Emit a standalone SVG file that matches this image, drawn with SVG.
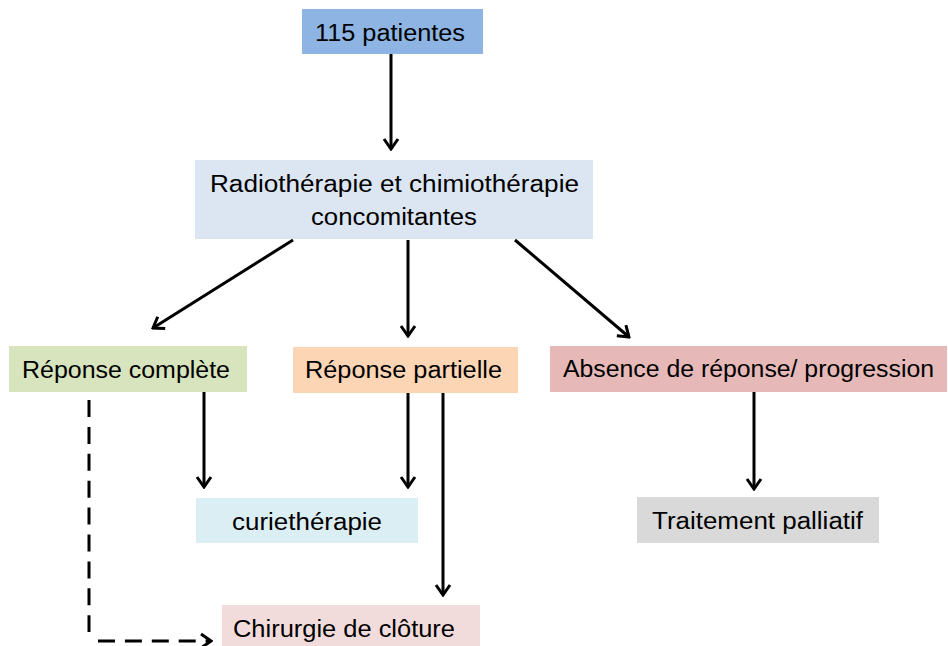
<svg xmlns="http://www.w3.org/2000/svg" width="948" height="646" viewBox="0 0 948 646">
<style>
  .lbl { font-family: "Liberation Sans", Arial, sans-serif; font-size: 23px; fill: #000; }
  .ln { stroke: #000; stroke-width: 3; fill: none; }
  .dash { stroke-dasharray: 17 9.9; }
</style>
<defs>
  <marker id="arr" viewBox="-12 -9 14 18" refX="0" refY="0" markerWidth="14" markerHeight="18" markerUnits="userSpaceOnUse" orient="auto">
    <path d="M-10,-7 L0,0 L-10,7" fill="none" stroke="#000" stroke-width="3"/>
  </marker>
</defs>
<rect width="948" height="646" fill="#fff"/>
<g id="n1">
  <rect x="302" y="9" width="181" height="45" fill="#8DB4E2"/>
  <text class="lbl" x="315" y="41" textLength="150" lengthAdjust="spacingAndGlyphs">115 patientes</text>
</g>
<g id="n2">
  <rect x="195" y="160" width="398" height="79" fill="#DCE6F2"/>
  <text class="lbl" x="210" y="192" textLength="369" lengthAdjust="spacingAndGlyphs">Radiothérapie et chimiothérapie</text>
  <text class="lbl" x="311" y="225" textLength="166" lengthAdjust="spacingAndGlyphs">concomitantes</text>
</g>
<g id="n3">
  <rect x="9" y="346" width="238" height="46" fill="#D7E4BD"/>
  <text class="lbl" x="22" y="378" textLength="208" lengthAdjust="spacingAndGlyphs">Réponse complète</text>
</g>
<g id="n4">
  <rect x="293" y="347" width="225" height="46" fill="#FCD5B5"/>
  <text class="lbl" x="305" y="378" textLength="197" lengthAdjust="spacingAndGlyphs">Réponse partielle</text>
</g>
<g id="n5">
  <rect x="550" y="346" width="397" height="46" fill="#E6B9B8"/>
  <text class="lbl" x="563" y="377" textLength="371" lengthAdjust="spacingAndGlyphs">Absence de réponse/ progression</text>
</g>
<g id="n6">
  <rect x="196" y="498" width="222" height="45" fill="#DBEEF4"/>
  <text class="lbl" x="232" y="530" textLength="150" lengthAdjust="spacingAndGlyphs">curiethérapie</text>
</g>
<g id="n7">
  <rect x="222" y="605" width="258" height="45" fill="#F2DCDB"/>
  <text class="lbl" x="233" y="637" textLength="222" lengthAdjust="spacingAndGlyphs">Chirurgie de clôture</text>
</g>
<g id="n8">
  <rect x="637" y="497" width="242" height="46" fill="#D9D9D9"/>
  <text class="lbl" x="652" y="529" textLength="211" lengthAdjust="spacingAndGlyphs">Traitement palliatif</text>
</g>
<g id="connectors">
  <line class="ln" x1="391" y1="54" x2="391" y2="149" marker-end="url(#arr)"/>
  <line class="ln" x1="293" y1="240" x2="153" y2="328" marker-end="url(#arr)"/>
  <line class="ln" x1="408" y1="240" x2="408" y2="336" marker-end="url(#arr)"/>
  <line class="ln" x1="515" y1="240" x2="629" y2="337" marker-end="url(#arr)"/>
  <line class="ln" x1="204" y1="392" x2="204" y2="487" marker-end="url(#arr)"/>
  <line class="ln" x1="408" y1="393" x2="408" y2="487" marker-end="url(#arr)"/>
  <line class="ln" x1="443" y1="393" x2="443" y2="595" marker-end="url(#arr)"/>
  <line class="ln" x1="754" y1="392" x2="754" y2="489" marker-end="url(#arr)"/>
  <line class="ln dash" x1="89" y1="400" x2="89" y2="632"/>
  <line class="ln dash" x1="98" y1="641" x2="211" y2="641" marker-end="url(#arr)"/>
</g>
</svg>
